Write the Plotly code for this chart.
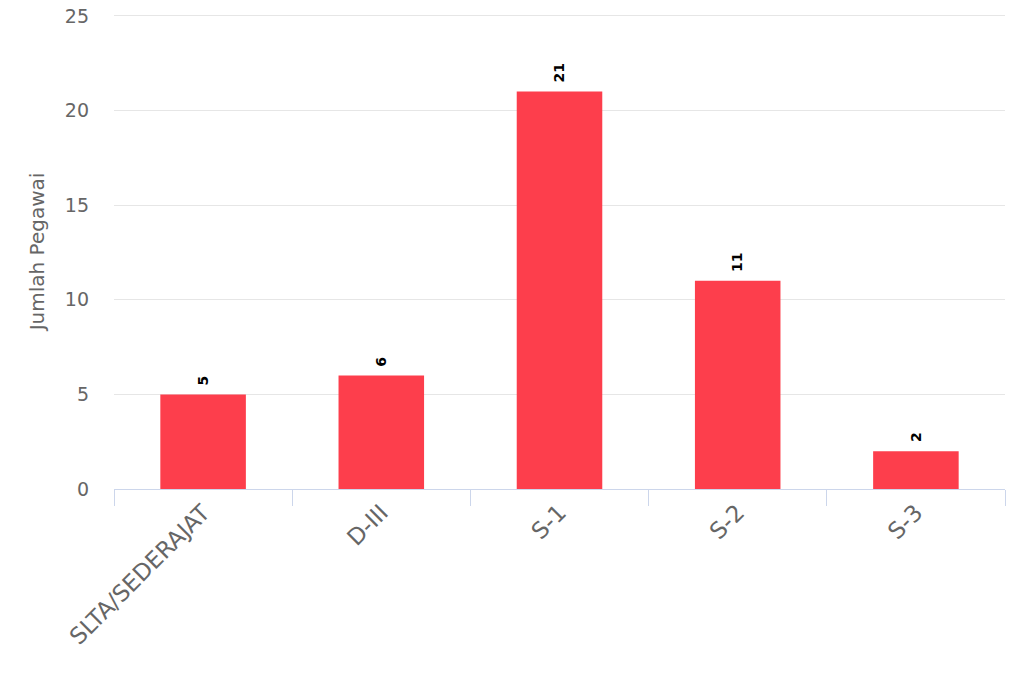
import plotly.graph_objects as go

categories = ["SLTA/SEDERAJAT", "D-III", "S-1", "S-2", "S-3"]
values = [5, 6, 21, 11, 2]
y_ticks = [0, 5, 10, 15, 20, 25]

fig = go.Figure()
fig.add_trace(go.Bar(
    x=categories, y=values,
    marker=dict(color="#fd3e4c", line=dict(width=0)),
    width=0.48,
    hoverinfo="x+y",
))

for c, v in zip(categories, values):
    fig.add_annotation(
        x=c, y=v, text=f"<b>{v}</b>", textangle=-90,
        showarrow=False, yanchor="bottom", yshift=7,
        font=dict(family="DejaVu Sans", size=14, color="#000000"),
    )

fig.update_layout(
    width=1024, height=683,
    margin=dict(l=114, r=19, t=14, b=194, autoexpand=False),
    paper_bgcolor="white", plot_bgcolor="white",
    showlegend=False,
    font=dict(family="DejaVu Sans", color="#666666"),
    xaxis=dict(
        type="category",
        automargin=False,
        tickangle=-45,
        tickfont=dict(size=23, color="#666666"),
        showline=True, linecolor="#ccd6eb", linewidth=1,
        ticks="outside", ticklen=16, tickcolor="#ccd6eb", tickson="boundaries",
        showgrid=False,
    ),
    yaxis=dict(
        range=[0, 25.1],
        automargin=False,
        tickvals=y_ticks,
        tickfont=dict(size=19, color="#666666"),
        ticklabeloverflow="allow",
        gridcolor="#e6e6e6", gridwidth=1,
        zeroline=False,
        ticklabelstandoff=24,
        title=dict(text="Jumlah Pegawai", font=dict(size=20, color="#666666"), standoff=14),
    ),
)

fig.write_html("out.html", config={"displayModeBar": False},
               post_script="document.body.style.margin='0';")
